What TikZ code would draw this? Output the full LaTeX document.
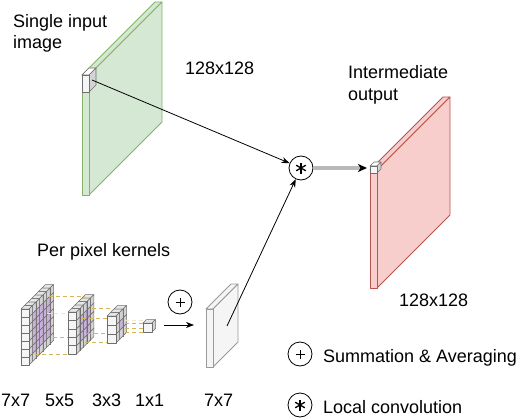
\documentclass[tikz,border=0pt]{standalone}
\usepackage{fontspec}
\setmainfont{Liberation Sans}
\usetikzlibrary{arrows.meta,calc}
\definecolor{gfill}{HTML}{D5E8D4}
\definecolor{gline}{HTML}{82B366}
\definecolor{rfill}{HTML}{F8CECC}
\definecolor{rline}{HTML}{B85450}
\definecolor{wfill}{HTML}{F5F5F5}
\definecolor{wline}{HTML}{999999}
\definecolor{cline}{HTML}{6E6E6E}
\definecolor{ctop}{HTML}{E6E6E6}
\definecolor{cside}{HTML}{D4D4D4}
\definecolor{pfill}{HTML}{E1D5E7}
\definecolor{pside}{HTML}{C9B2D9}
\definecolor{dline}{HTML}{D6B656}

% x y w h d front top side stroke
\newcommand{\mkbox}[9]{%
  \filldraw[fill=#7,draw=#9,line join=round] (#1,#2) -- ++(#5,-#5) -- ++(#3,0) -- ++(-#5,#5) -- cycle;
  \filldraw[fill=#8,draw=#9,line join=round] ({#1+#3},#2) -- ++(#5,-#5) -- ++(0,#4) -- ++(-#5,#5) -- cycle;
  \filldraw[fill=#6,draw=#9,line join=round] (#1,#2) rectangle ++(#3,#4);
}
% x0 y0 n s off
\newcommand{\mkkernel}[5]{%
  \pgfmathtruncatemacro\knm{#3-1}
  \foreach \c in {\knm,...,0}{
    \foreach \r in {\knm,...,0}{
      \pgfmathtruncatemacro\kin{(\c>0)*(\c<\knm)*(\r>0)*(\r<\knm)}
      \pgfmathsetmacro\kx{#1+#5*\c}
      \pgfmathsetmacro\ky{#2-#5*\c+#4*\r}
      \ifnum\kin=1
        \mkbox{\kx}{\ky}{#4}{#4}{#5}{pfill}{pfill}{pside}{cline}
      \else
        \mkbox{\kx}{\ky}{#4}{#4}{#5}{wfill}{ctop}{cside}{cline}
      \fi
    }
  }
}

\tikzset{
  lbl/.style={anchor=base west, inner sep=0pt, font=\fontsize{18}{21}\selectfont},
  opcirc/.style={circle, draw=black, line width=0.8pt, fill=white, minimum size=24pt, inner sep=0pt},
  astsym/.style={path picture={
     \foreach \a in {90,30,150}
       \draw[line width=1.3pt] ($(path picture bounding box.center)+(\a:5.5)$) -- ($(path picture bounding box.center)+(\a+180:5.5)$);}},
  plussym/.style={path picture={
     \draw[line width=1pt] ($(path picture bounding box.center)+(-4.5,0)$) -- ($(path picture bounding box.center)+(4.5,0)$);
     \draw[line width=1pt] ($(path picture bounding box.center)+(0,-4.5)$) -- ($(path picture bounding box.center)+(0,4.5)$);}},
  conn/.style={-{Stealth[length=8pt,width=6pt,inset=2.5pt]}, line width=0.8pt},
  kdash/.style={draw=dline, line width=1pt, dash pattern=on 4pt off 3pt},
  kdashl/.style={draw=dline!35, line width=1pt, dash pattern=on 4pt off 3pt}
}

\begin{document}
\begin{tikzpicture}[x=1pt,y=-1pt]
\useasboundingbox (0,0) rectangle (520,420);

% slabs
\begin{scope}[line width=0.8pt]
  \mkbox{82}{75}{7}{120}{73}{gfill}{gfill}{gfill}{gline}
  \mkbox{370}{170}{7}{118}{73}{rfill}{rfill}{rfill}{rline}
  \mkbox{206}{309}{7}{58}{25}{wfill}{wfill}{wfill}{wline}
\end{scope}
\begin{scope}[line width=0.6pt]
  \mkbox{82}{75}{7}{17}{7}{wfill}{white}{cside}{cline}
  \mkbox{370}{166}{7}{7}{4}{wfill}{white}{cside}{cline}
\end{scope}

% kernels
\begin{scope}[line width=0.5pt]
  \mkkernel{21}{309}{7}{8}{3.5}
  \mkkernel{68}{312}{5}{8.4}{3.5}
  \mkkernel{107}{316}{3}{9}{3.5}
  \mkkernel{143}{323}{1}{9}{3.5}
\end{scope}

% dashed correspondences
\draw[kdash] (49,296) -- (85,296);
\draw[kdashl] (47,313) -- (68,313);
\draw[kdash] (53,337) -- (68,337);
\draw[kdash] (35,354) -- (68,354);
\draw[kdash] (92,308) -- (113,308);
\draw[kdash] (82,318) -- (107,318);
\draw[kdash] (87,333) -- (107,333);
\draw[kdash] (85,342) -- (107,342);
\draw[kdashl] (125,320) -- (143,320);
\draw[kdash] (125,323.5) -- (143,323.5);
\draw[kdash] (125,328) -- (143,328);
\draw[kdash] (125,332) -- (143,332);

% operators
\node[opcirc, astsym] (conv) at (301,168) {};
\node[opcirc, plussym] (plusop) at (180,302) {};
\node[opcirc, plussym] (legplus) at (300,354) {};
\node[opcirc, astsym] (legast) at (300,405) {};

% connectors
\coordinate (gsrc) at (92,80);
\coordinate (ksrc) at (227,326);
\coordinate (rdst) at (367,168);
\coordinate (pa1) at (164,325);
\coordinate (pa2) at (194,325);
\draw[conn] (gsrc) -- (conv);
\draw[conn] (ksrc) -- (conv);
\draw[conn] (pa1) -- (pa2);
\draw[line width=3.2pt, draw=gray!55, -{Stealth[length=9pt,width=8pt,inset=2.5pt,black]}] (conv) -- (rdst);

% labels
\node[lbl] (t1) at (13,27.5) {Single input};
\node[lbl] (t2) at (13,48.5) {image};
\node[lbl] (t3) at (185,75) {128x128};
\node[lbl] (t4) at (348,78) {Intermediate};
\node[lbl] (t5) at (348,100) {output};
\node[lbl] (t6) at (399,306) {128x128};
\node[lbl] (t7) at (37,256.5) {Per pixel kernels};
\node[lbl] (k7) at (1,406) {7x7};
\node[lbl] (k5) at (45,406) {5x5};
\node[lbl] (k3) at (92,406) {3x3};
\node[lbl] (k1) at (135,406) {1x1};
\node[lbl] (k7b) at (204,406) {7x7};
\node[lbl] (l1) at (323,362) {Summation \& Averaging};
\node[lbl] (l2) at (323,413) {Local convolution};
\end{tikzpicture}
\end{document}
